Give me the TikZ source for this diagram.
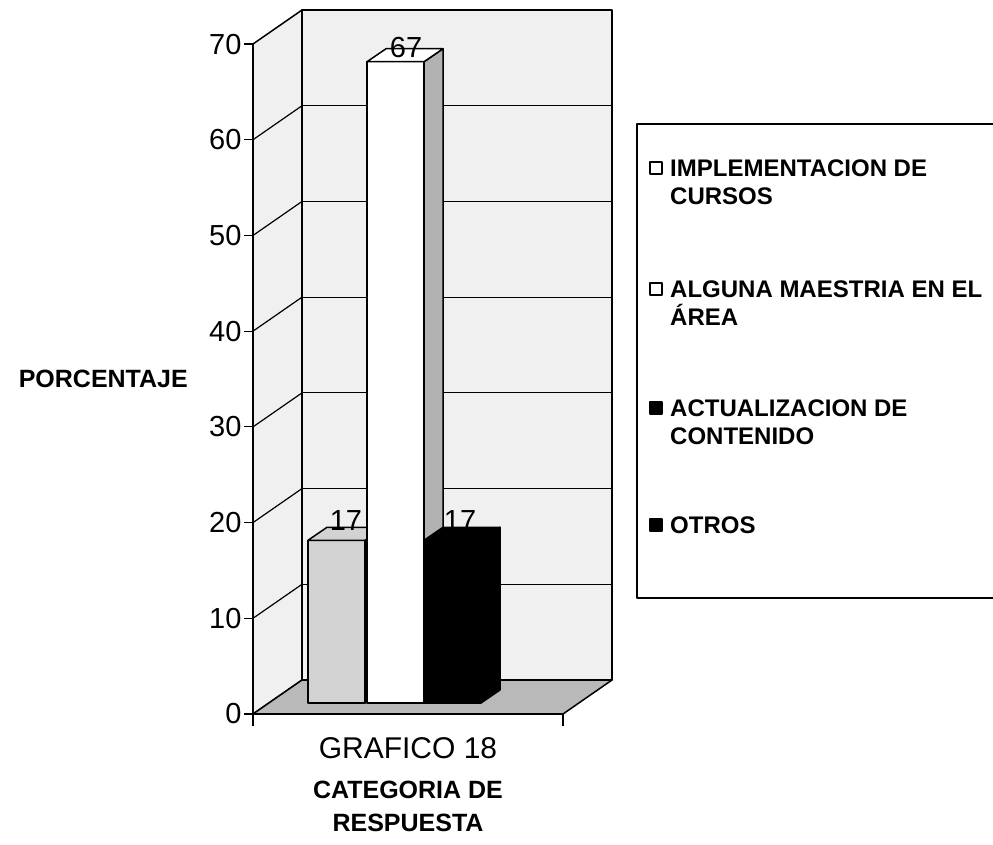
\documentclass[tikz,border=0pt]{standalone}
\usepackage{fontspec}
\setmainfont{Liberation Sans}
\usetikzlibrary{positioning}

\begin{document}
\begin{tikzpicture}[x=1pt,y=-1pt,line join=round,
  wall/.style={fill=wallcolor,draw=black,line width=1.5pt},
  grid line/.style={line width=1.2pt},
  bar face/.style={draw=black,line width=1.5pt},
  tick label/.style={anchor=east,inner sep=0pt,font=\fontsize{29}{34}\selectfont},
  value label/.style={inner sep=0pt,font=\fontsize{29}{34}\selectfont},
  axis title/.style={align=center,inner sep=0pt,font=\fontsize{25}{33}\selectfont\bfseries},
  legend key/.style={draw=black,line width=1.2pt,minimum size=12pt,inner sep=0pt},
  legend text/.style={anchor=west,align=left,inner sep=0pt,font=\fontsize{24}{28}\selectfont\bfseries}]
 \colorlet{wallcolor}{gray!12}
 \colorlet{floorcolor}{gray!55}
 \colorlet{barcolor}{gray!35}
 \colorlet{sidecolor}{gray!60}

 \useasboundingbox (0,0) rectangle (993,845);

 % walls and grid
 \filldraw[wall] (253,714) -- (253,44) -- (302,10) -- (302,680) -- cycle;
 \filldraw[wall] (302,10) rectangle (612,680);
 \foreach \v in {10,20,...,60}
    \draw[grid line] (302,680-9.571*\v) -- (612,680-9.571*\v);
 \foreach \v in {10,20,...,60}
    \draw[grid line] (253,714-9.571*\v) -- (302,680-9.571*\v);

 % floor
 \filldraw[fill=floorcolor,draw=black,line width=1.5pt]
    (253,714) -- (302,680) -- (612,680) -- (563,714) -- cycle;

 % axis
 \draw[line width=2.2pt] (253,714) -- (253,44);
 \draw[line width=2.2pt] (253,714) -- (563,714);
 \foreach \x in {253,563}
    \draw[line width=1.2pt] (\x,714) -- (\x,726);
 \foreach \v in {0,10,...,70}
    \draw[line width=1.2pt] (253,714-9.571*\v) -- (244,714-9.571*\v)
       node[tick label,xshift=-2pt] {\v};

 % bars
 \foreach \x/\v/\front/\side in {308/17/barcolor/barcolor,367/67/white/sidecolor,424/17/black/black} {
    \pgfmathsetmacro\yt{703-9.571*\v}
    \filldraw[bar face,fill=\side] (\x+57,703) -- (\x+76,690) -- (\x+76,\yt-13) -- (\x+57,\yt) -- cycle;
    \filldraw[bar face,fill=\front] (\x,703) rectangle (\x+57,\yt);
    \filldraw[bar face,fill=\front] (\x,\yt) -- (\x+19,\yt-13) -- (\x+76,\yt-13) -- (\x+57,\yt) -- cycle;
 }
 \node[value label] (cursos val) at (346,521) {17};
 \node[value label] (maestria val) at (406,48) {67};
 \node[value label] (contenido val) at (460,521) {17};

 % axis titles
 \node[axis title,anchor=east] (y title) at (188,379) {PORCENTAJE};
 \node[inner sep=0pt,font=\fontsize{30}{34}\selectfont] (grafico) at (408,748) {GRAFICO 18};
 \node[axis title,below=22pt of grafico] (x title) {CATEGORIA DE\\RESPUESTA};

 % legend
 \draw[line width=1.2pt] (993,124) -- (637,124) -- (637,598) -- (993,598);
 \node[legend key,fill=white] (cursos key) at (656,168) {};
 \node[legend text] (cursos) at (670,182) {IMPLEMENTACION DE\\CURSOS};
 \node[legend key,fill=white] (maestria key) at (656,289) {};
 \node[legend text] (maestria) at (670,303) {ALGUNA MAESTRIA EN EL\\ÁREA};
 \node[legend key,fill=black] (contenido key) at (656,408) {};
 \node[legend text] (contenido) at (670,422) {ACTUALIZACION DE\\CONTENIDO};
 \node[legend key,fill=black] (otros key) at (656,525) {};
 \node[legend text] (otros) at (670,525) {OTROS};
\end{tikzpicture}
\end{document}
